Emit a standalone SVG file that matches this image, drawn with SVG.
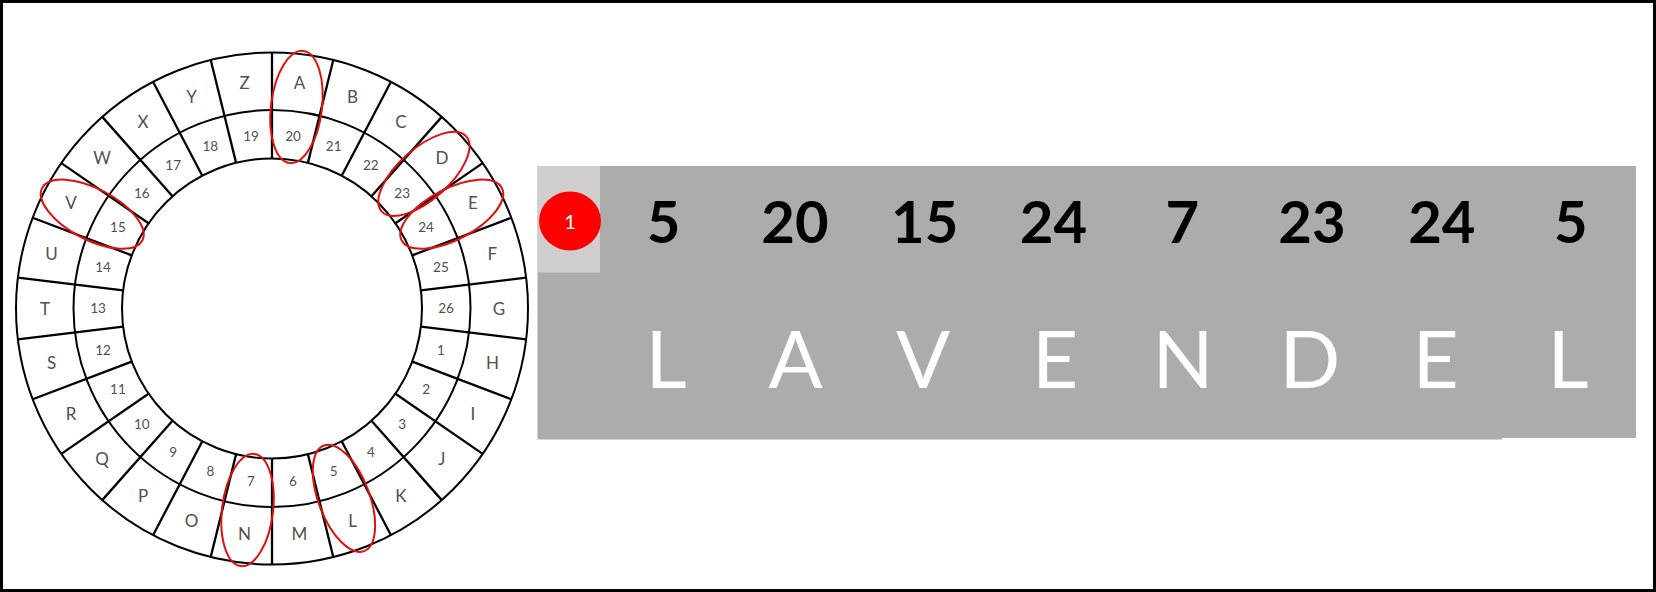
<svg xmlns="http://www.w3.org/2000/svg" xmlns:xlink="http://www.w3.org/1999/xlink" width="1656" height="592" viewBox="0 0 1656 592">
<style>
.ring{fill:none;stroke:#000;stroke-width:2}
.spk{stroke:#000;stroke-width:2.3}
.mark{fill:none;stroke:#E01010;stroke-width:2}
.let{font-family:Lato,"Liberation Sans",sans-serif;font-size:17px;fill:#505050;text-anchor:middle}
.num{font-family:Lato,"Liberation Sans",sans-serif;font-size:13.5px;fill:#505050;text-anchor:middle}
.code{font-family:Lato,"Liberation Sans",sans-serif;font-size:58px;font-weight:700;fill:#000;text-anchor:middle}
.word{font-family:Lato,"Liberation Sans",sans-serif;font-size:80px;fill:#fff;text-anchor:middle}
</style>
<defs>
<line id="spoke" class="spk" x1="272" y1="52.5" x2="272" y2="158.5"/>
<ellipse id="oval" class="mark" cx="272" cy="105.5" rx="25.5" ry="56.5"/>
</defs>
<rect id="frame" x="1.5" y="1.5" width="1653" height="589" fill="#fff" stroke="#000" stroke-width="3"/>
<g id="wheel">
<g id="rings">
<circle class="ring" cx="272" cy="308.5" r="256"/>
<circle class="ring" cx="272" cy="308.5" r="198.5"/>
<circle class="ring" cx="272" cy="308.5" r="150"/>
</g>
<g id="spokes">
<use href="#spoke" transform="rotate(0 272 308.5)"/>
<use href="#spoke" transform="rotate(13.8462 272 308.5)"/>
<use href="#spoke" transform="rotate(27.6923 272 308.5)"/>
<use href="#spoke" transform="rotate(41.5385 272 308.5)"/>
<use href="#spoke" transform="rotate(55.3846 272 308.5)"/>
<use href="#spoke" transform="rotate(69.2308 272 308.5)"/>
<use href="#spoke" transform="rotate(83.0769 272 308.5)"/>
<use href="#spoke" transform="rotate(96.9231 272 308.5)"/>
<use href="#spoke" transform="rotate(110.7692 272 308.5)"/>
<use href="#spoke" transform="rotate(124.6154 272 308.5)"/>
<use href="#spoke" transform="rotate(138.4615 272 308.5)"/>
<use href="#spoke" transform="rotate(152.3077 272 308.5)"/>
<use href="#spoke" transform="rotate(166.1538 272 308.5)"/>
<use href="#spoke" transform="rotate(180 272 308.5)"/>
<use href="#spoke" transform="rotate(193.8462 272 308.5)"/>
<use href="#spoke" transform="rotate(207.6923 272 308.5)"/>
<use href="#spoke" transform="rotate(221.5385 272 308.5)"/>
<use href="#spoke" transform="rotate(235.3846 272 308.5)"/>
<use href="#spoke" transform="rotate(249.2308 272 308.5)"/>
<use href="#spoke" transform="rotate(263.0769 272 308.5)"/>
<use href="#spoke" transform="rotate(276.9231 272 308.5)"/>
<use href="#spoke" transform="rotate(290.7692 272 308.5)"/>
<use href="#spoke" transform="rotate(304.6154 272 308.5)"/>
<use href="#spoke" transform="rotate(318.4615 272 308.5)"/>
<use href="#spoke" transform="rotate(332.3077 272 308.5)"/>
<use href="#spoke" transform="rotate(346.1538 272 308.5)"/>
</g>
<g id="letters">
<text class="let" x="299.4" y="89.4">A</text>
<text class="let" x="352.5" y="102.5">B</text>
<text class="let" x="401" y="127.9">C</text>
<text class="let" x="441.9" y="164.2">D</text>
<text class="let" x="473" y="209.2">E</text>
<text class="let" x="492.4" y="260.4">F</text>
<text class="let" x="499" y="314.7">G</text>
<text class="let" x="492.4" y="369">H</text>
<text class="let" x="473" y="420.2">I</text>
<text class="let" x="441.9" y="465.2">J</text>
<text class="let" x="401" y="501.5">K</text>
<text class="let" x="352.5" y="526.9">L</text>
<text class="let" x="299.4" y="540">M</text>
<text class="let" x="244.6" y="540">N</text>
<text class="let" x="191.5" y="526.9">O</text>
<text class="let" x="143" y="501.5">P</text>
<text class="let" x="102.1" y="465.2">Q</text>
<text class="let" x="71" y="420.2">R</text>
<text class="let" x="51.6" y="369">S</text>
<text class="let" x="45" y="314.7">T</text>
<text class="let" x="51.6" y="260.4">U</text>
<text class="let" x="71" y="209.2">V</text>
<text class="let" x="102.1" y="164.2">W</text>
<text class="let" x="143" y="127.9">X</text>
<text class="let" x="191.5" y="102.5">Y</text>
<text class="let" x="244.6" y="89.4">Z</text>
</g>
<g id="numbers">
<text class="num" x="293" y="140.6">20</text>
<text class="num" x="333.7" y="150.6">21</text>
<text class="num" x="370.8" y="170.1">22</text>
<text class="num" x="402.2" y="197.9">23</text>
<text class="num" x="426.1" y="232.4">24</text>
<text class="num" x="440.9" y="271.7">25</text>
<text class="num" x="446" y="313.3">26</text>
<text class="num" x="440.9" y="354.9">1</text>
<text class="num" x="426.1" y="394.2">2</text>
<text class="num" x="402.2" y="428.7">3</text>
<text class="num" x="370.8" y="456.5">4</text>
<text class="num" x="333.7" y="476">5</text>
<text class="num" x="293" y="486">6</text>
<text class="num" x="251" y="486">7</text>
<text class="num" x="210.3" y="476">8</text>
<text class="num" x="173.2" y="456.5">9</text>
<text class="num" x="141.8" y="428.7">10</text>
<text class="num" x="117.9" y="394.2">11</text>
<text class="num" x="103.1" y="354.9">12</text>
<text class="num" x="98" y="313.3">13</text>
<text class="num" x="103.1" y="271.7">14</text>
<text class="num" x="117.9" y="232.4">15</text>
<text class="num" x="141.8" y="197.9">16</text>
<text class="num" x="173.2" y="170.1">17</text>
<text class="num" x="210.3" y="150.6">18</text>
<text class="num" x="251" y="140.6">19</text>
</g>
<g id="marks">
<use href="#oval" transform="rotate(6.9231 272 308.5)"/>
<use href="#oval" transform="rotate(48.4615 272 308.5)"/>
<use href="#oval" transform="rotate(62.3077 272 308.5)"/>
<use href="#oval" transform="rotate(159.2308 272 308.5)"/>
<use href="#oval" transform="rotate(186.9231 272 308.5)"/>
<use href="#oval" transform="rotate(297.6923 272 308.5)"/>
</g>
</g>
<g id="panel">
<path d="M537.5,166 H1636 V438 H1502 V439.5 H537.5 Z" fill="#AEABAB"/>
<rect x="537.5" y="166" width="62.5" height="106.5" fill="#D0CECE"/>
<g id="badge">
<ellipse cx="570" cy="221" rx="31" ry="29.5" fill="#FF0000"/>
<text x="570" y="229" font-family="Lato,'Liberation Sans',sans-serif" font-size="20" fill="#fff" text-anchor="middle">1</text>
</g>
<g id="code">
<text class="code" x="663.5" y="243">5</text>
<text class="code" x="795" y="243">20</text>
<text class="code" x="924.7" y="243">15</text>
<text class="code" x="1053.5" y="243">24</text>
<text class="code" x="1182.4" y="243">7</text>
<text class="code" x="1312" y="243">23</text>
<text class="code" x="1441.8" y="243">24</text>
<text class="code" x="1570.7" y="243">5</text>
</g>
<g id="word">
<text class="word" x="666" y="387.5">L</text>
<text class="word" x="795.5" y="387.5">A</text>
<text class="word" x="923" y="387.5">V</text>
<text class="word" x="1055" y="387.5">E</text>
<text class="word" x="1183" y="387.5">N</text>
<text class="word" x="1310" y="387.5">D</text>
<text class="word" x="1435.5" y="387.5">E</text>
<text class="word" x="1568" y="387.5">L</text>
</g>
</g>
</svg>
